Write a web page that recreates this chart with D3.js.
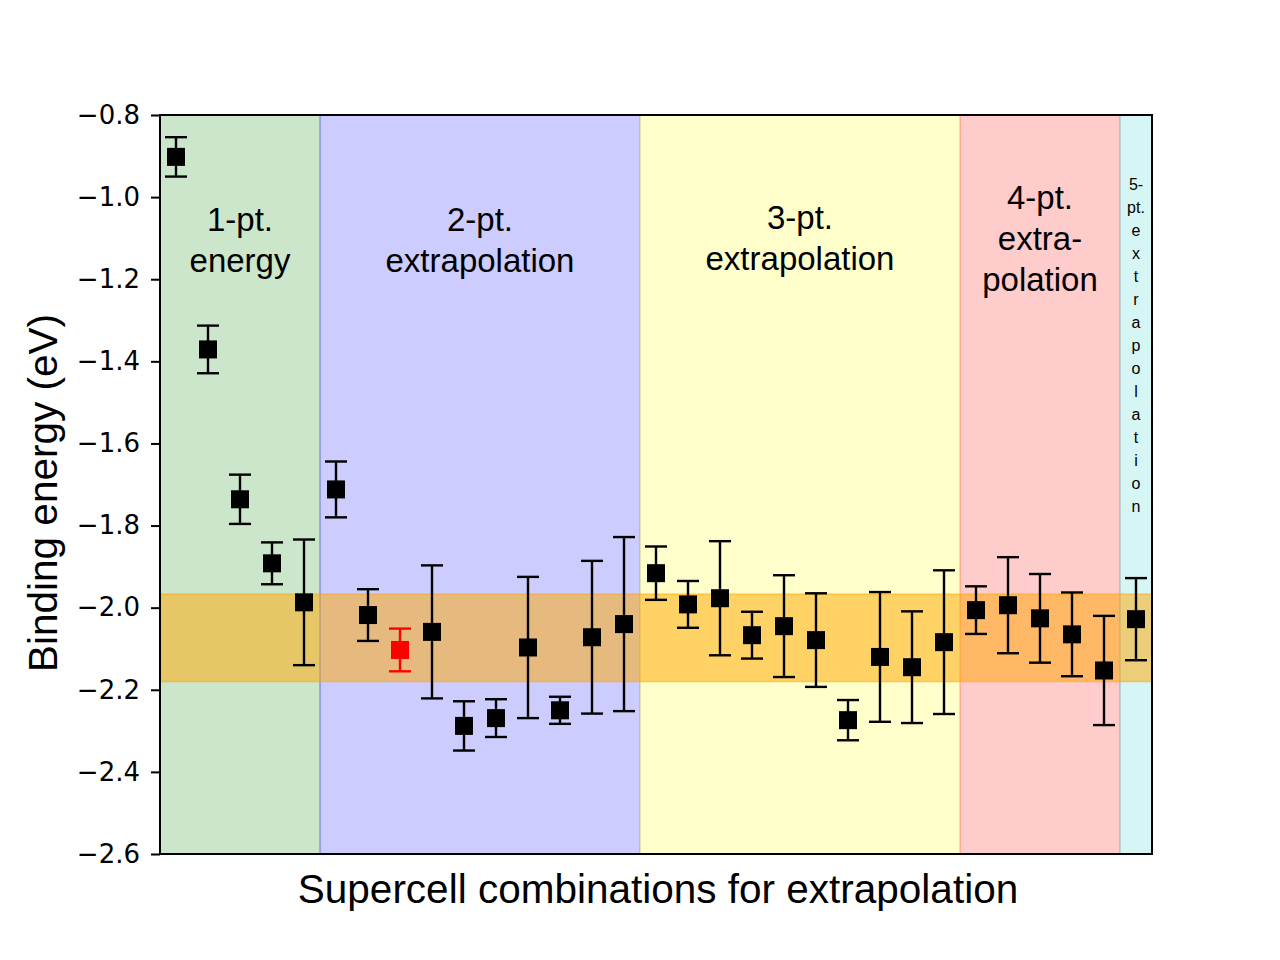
<!DOCTYPE html>
<html>
<head>
<meta charset="utf-8">
<script src="https://cdn.jsdelivr.net/npm/d3@7"></script>
<style>
  body { margin: 0; background: #fff; }
  svg { display: block; }
</style>
</head>
<body>
<script>
const w = 1280;
const h = 960;

// binding energies (eV) for each supercell combination
const energies = [
  -0.902, -1.371, -1.736, -1.892, -1.987,
  -1.712, -2.018, -2.103, -2.059, -2.288, -2.269, -2.097, -2.250, -2.072, -2.040,
  -1.916, -1.992, -1.977, -2.067, -2.045, -2.079, -2.274, -2.120, -2.145, -2.084,
  -2.006, -1.994, -2.026, -2.065, -2.153,
  -2.028
];
const errors = [
  0.048, 0.058, 0.060, 0.051, 0.153,
  0.068, 0.063, 0.052, 0.162, 0.060, 0.046, 0.172, 0.033, 0.186, 0.212,
  0.065, 0.057, 0.139, 0.057, 0.124, 0.114, 0.049, 0.158, 0.136, 0.175,
  0.058, 0.117, 0.108, 0.102, 0.133,
  0.100
];
const highlightIndex = 7;

// shaded groups: [first index, last index]
const groupStart = [0, 5, 15, 25, 30];
const groupEnd = [4, 14, 24, 29, 30];
const groupColors = ["green", "blue", "yellow", "red", "#33cccc"];
const groupLabels = [
  ["1-pt.", "energy"],
  ["2-pt.", "extrapolation"],
  ["3-pt.", "extrapolation"],
  ["4-pt.", "extra-", "polation"],
  ["5-", "pt.", "e", "x", "t", "r", "a", "p", "o", "l", "a", "t", "i", "o", "n"]
];
// reference energy band
const bandLow = -2.180;
const bandHigh = -1.967;

const yTicks = [-0.8, -1.0, -1.2, -1.4, -1.6, -1.8, -2.0, -2.2, -2.4, -2.6];

const margin = { top: 115, right: 128, bottom: 106, left: 160 };
const iw = w - margin.left - margin.right;
const ih = h - margin.top - margin.bottom;

const x = d3.scaleLinear().domain([-0.5, energies.length - 0.5]).range([0, iw]);
const y = d3.scaleLinear().domain([-0.8, -2.6]).range([0, ih]);

const svg = d3
  .select("body")
  .append("svg")
  .attr("width", w)
  .attr("height", h);

const g = svg.append("g").attr("transform", `translate(${margin.left},${margin.top})`);

// background group spans
g.selectAll("rect.span")
  .data(groupStart)
  .enter()
  .append("rect")
  .attr("class", "span")
  .attr("x", (d) => x(d - 0.5))
  .attr("width", (d, i) => x(groupEnd[i] + 0.5) - x(d - 0.5))
  .attr("y", 0)
  .attr("height", ih)
  .attr("fill", (d, i) => groupColors[i])
  .attr("fill-opacity", 0.2)
  .attr("stroke", (d, i) => groupColors[i])
  .attr("stroke-opacity", 0.2)
  .attr("stroke-width", 1.5);

// orange reference band
g.append("rect")
  .attr("x", 0)
  .attr("width", iw)
  .attr("y", y(bandHigh))
  .attr("height", y(bandLow) - y(bandHigh))
  .attr("fill", "orange")
  .attr("fill-opacity", 0.5)
  .attr("stroke", "orange")
  .attr("stroke-opacity", 0.5)
  .attr("stroke-width", 1.5);

// group labels
const labelFont = "'Liberation Sans', Arial, Helvetica, sans-serif";
const labelY = [-1.104, -1.104, -1.1, -1.1, -0.97];
const labelSize = [33, 33, 33, 33, 16];
const lineStep = [41, 41, 41, 41, 23];
groupLabels.forEach(function (lines, i) {
  const cx = x((groupStart[i] + groupEnd[i]) / 2);
  const cy = y(labelY[i]);
  const t = g.append("text")
    .attr("text-anchor", "middle")
    .attr("font-family", labelFont)
    .attr("font-size", labelSize[i])
    .attr("fill", "#000");
  const top = i === 4 ? cy : cy - ((lines.length - 1) * lineStep[i]) / 2;
  lines.forEach(function (line, k) {
    t.append("tspan")
      .attr("x", cx)
      .attr("y", top + k * lineStep[i])
      .attr("dy", "0.35em")
      .text(line);
  });
});

// error bars
const bars = g.selectAll("g.err")
  .data(energies)
  .enter()
  .append("g")
  .attr("class", "err")
  .attr("stroke", (d, i) => (i === highlightIndex ? "red" : "black"))
  .attr("stroke-width", 2.4);

bars.append("line")
  .attr("x1", (d, i) => x(i))
  .attr("x2", (d, i) => x(i))
  .attr("y1", (d, i) => y(d + errors[i]))
  .attr("y2", (d, i) => y(d - errors[i]));

bars.append("line")
  .attr("x1", (d, i) => x(i) - 11)
  .attr("x2", (d, i) => x(i) + 11)
  .attr("y1", (d, i) => y(d + errors[i]))
  .attr("y2", (d, i) => y(d + errors[i]));

bars.append("line")
  .attr("x1", (d, i) => x(i) - 11)
  .attr("x2", (d, i) => x(i) + 11)
  .attr("y1", (d, i) => y(d - errors[i]))
  .attr("y2", (d, i) => y(d - errors[i]));

// square markers
const ms = 18;
g.selectAll("rect.pt")
  .data(energies)
  .enter()
  .append("rect")
  .attr("class", "pt")
  .attr("x", (d, i) => x(i) - ms / 2)
  .attr("y", (d) => y(d) - ms / 2)
  .attr("width", ms)
  .attr("height", ms)
  .attr("fill", (d, i) => (i === highlightIndex ? "red" : "black"));

// y axis
const yAxis = g.append("g")
  .call(d3.axisLeft(y).tickValues(yTicks).tickSize(9).tickPadding(11)
    .tickFormat((d) => d3.format(".1f")(d).replace("-", "\u2212")));
yAxis.select(".domain").remove();
yAxis.selectAll(".tick line").attr("stroke", "#000").attr("stroke-width", 2);
yAxis.selectAll(".tick text")
  .attr("font-family", "'DejaVu Sans', sans-serif")
  .attr("font-size", 26)
  .attr("fill", "#000");

// frame
g.append("rect")
  .attr("x", 0)
  .attr("y", 0)
  .attr("width", iw)
  .attr("height", ih)
  .attr("fill", "none")
  .attr("stroke", "#000")
  .attr("stroke-width", 2);

// axis titles
svg.append("text")
  .attr("x", margin.left + iw / 2 + 2)
  .attr("y", 903)
  .attr("text-anchor", "middle")
  .attr("font-family", labelFont)
  .attr("font-size", 40.5)
  .text("Supercell combinations for extrapolation");

svg.append("text")
  .attr("transform", "translate(57," + (margin.top + 378) + ") rotate(-90)")
  .attr("text-anchor", "middle")
  .attr("font-family", labelFont)
  .attr("font-size", 40.5)
  .text("Binding energy (eV)");
</script>
</body>
</html>
